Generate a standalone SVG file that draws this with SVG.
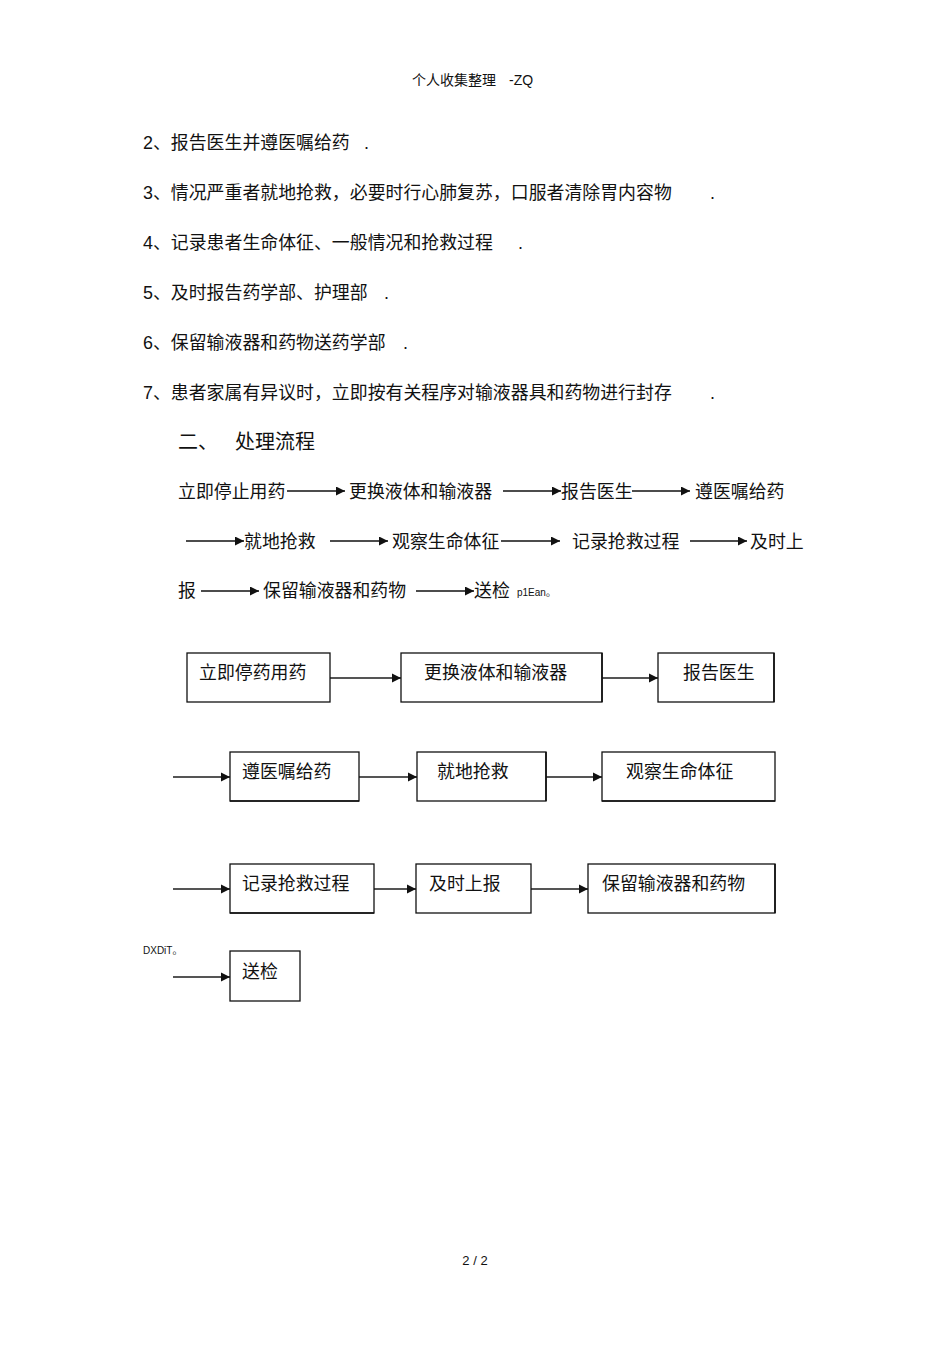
<svg xmlns="http://www.w3.org/2000/svg" width="950" height="1345" viewBox="0 0 950 1345">
<defs>
<style>
.t{font-family:"Liberation Sans","Noto Sans CJK SC",sans-serif;font-size:17.9px;fill:#111}
.h{font-family:"Liberation Sans","Noto Sans CJK SC",sans-serif;font-size:14px;fill:#111}
.s{font-family:"Liberation Sans","Noto Sans CJK SC",sans-serif;font-size:10px;fill:#111}
.box{fill:#fff;stroke:#111;stroke-width:1.3}
.edge{stroke:#111;stroke-width:1.6}
.fl{stroke:#111;stroke-width:1.6;fill:none}
.bl{stroke:#555;stroke-width:2.2;fill:none}
</style>
<marker id="ah" viewBox="0 0 10 10" refX="10" refY="5" markerWidth="10" markerHeight="9" markerUnits="userSpaceOnUse" orient="auto">
<path d="M0,0 L10,5 L0,10 z" fill="#111"/>
</marker>
<marker id="ab" viewBox="0 0 10 10" refX="10" refY="5" markerWidth="9" markerHeight="10" markerUnits="userSpaceOnUse" orient="auto">
<path d="M0,0 L10,5 L0,10 z" fill="#111"/>
</marker>
</defs>
<rect width="950" height="1345" fill="#fff"/>

<text class="h" x="412" y="85">个人收集整理</text>
<text class="h" x="509" y="85">-ZQ</text>

<g id="list">
<text class="t" x="143" y="148.5">2、报告医生并遵医嘱给药</text><text class="t" x="364" y="148.5">.</text>
<text class="t" x="143" y="199">3、情况严重者就地抢救，必要时行心肺复苏，口服者清除胃内容物</text><text class="t" x="710" y="199">.</text>
<text class="t" x="143" y="248.5">4、记录患者生命体征、一般情况和抢救过程</text><text class="t" x="518" y="248.5">.</text>
<text class="t" x="143" y="298.5">5、及时报告药学部、护理部</text><text class="t" x="384" y="298.5">.</text>
<text class="t" x="143" y="348.5">6、保留输液器和药物送药学部</text><text class="t" x="403" y="348.5">.</text>
<text class="t" x="143" y="398.5">7、患者家属有异议时，立即按有关程序对输液器具和药物进行封存</text><text class="t" x="710" y="398.5">.</text>
</g>

<text class="t" x="178" y="448.5" style="font-size:20px">二、</text>
<text class="t" x="235" y="448.5" style="font-size:20px">处理流程</text>

<g id="flowtext">
<text class="t" x="178" y="497.5">立即停止用药</text>
<text class="t" x="349" y="497.5">更换液体和输液器</text>
<text class="t" x="561" y="497.5">报告医生</text>
<text class="t" x="695" y="497.5">遵医嘱给药</text>
<text class="t" x="244" y="547.5">就地抢救</text>
<text class="t" x="392" y="547.5">观察生命体征</text>
<text class="t" x="572" y="547.5">记录抢救过程</text>
<text class="t" x="750" y="547.5">及时上</text>
<text class="t" x="178" y="596.5">报</text>
<text class="t" x="263" y="596.5">保留输液器和药物</text>
<text class="t" x="474" y="596.5">送检</text>
<text class="s" x="517" y="596">p1Ean。</text>
</g>

<g id="flowtext-arrows">
<line class="fl" x1="287" y1="491" x2="345" y2="491" marker-end="url(#ah)"/>
<line class="fl" x1="503" y1="491" x2="561" y2="491" marker-end="url(#ah)"/>
<line class="fl" x1="632" y1="491" x2="690" y2="491" marker-end="url(#ah)"/>
<line class="fl" x1="186" y1="541" x2="244" y2="541" marker-end="url(#ah)"/>
<line class="fl" x1="330" y1="541" x2="388" y2="541" marker-end="url(#ah)"/>
<line class="fl" x1="501" y1="541" x2="560" y2="541" marker-end="url(#ah)"/>
<line class="fl" x1="690" y1="541" x2="747" y2="541" marker-end="url(#ah)"/>
<line class="fl" x1="201" y1="591" x2="259" y2="591" marker-end="url(#ah)"/>
<line class="fl" x1="416" y1="591" x2="474" y2="591" marker-end="url(#ah)"/>
</g>

<g id="connectors">
<line class="bl" x1="330" y1="678" x2="401" y2="678" marker-end="url(#ab)"/>
<line class="bl" x1="602" y1="678" x2="658" y2="678" marker-end="url(#ab)"/>
<line class="bl" x1="173" y1="777" x2="230" y2="777" marker-end="url(#ab)"/>
<line class="bl" x1="359" y1="777" x2="417" y2="777" marker-end="url(#ab)"/>
<line class="bl" x1="546" y1="777" x2="602" y2="777" marker-end="url(#ab)"/>
<line class="bl" x1="173" y1="889" x2="230" y2="889" marker-end="url(#ab)"/>
<line class="bl" x1="374" y1="889" x2="416" y2="889" marker-end="url(#ab)"/>
<line class="bl" x1="531" y1="889" x2="588" y2="889" marker-end="url(#ab)"/>
<line class="bl" x1="173" y1="977" x2="230" y2="977" marker-end="url(#ab)"/>
</g>

<g id="n1"><rect class="box" x="187" y="653" width="143" height="49"/><text class="t" x="199" y="678.5">立即停药用药</text></g>
<g id="n2"><rect class="box" x="401" y="653" width="201" height="49"/><line class="edge" x1="602" y1="653" x2="602" y2="702"/><text class="t" x="424" y="678.5">更换液体和输液器</text></g>
<g id="n3"><rect class="box" x="658" y="653" width="116" height="49"/><line class="edge" x1="774" y1="653" x2="774" y2="702"/><text class="t" x="683" y="678.5">报告医生</text></g>

<g id="n4"><rect class="box" x="230" y="752" width="129" height="49"/><line class="edge" x1="230" y1="801" x2="359" y2="801"/><text class="t" x="242" y="777.5">遵医嘱给药</text></g>
<g id="n5"><rect class="box" x="417" y="752" width="129" height="49"/><line class="edge" x1="546" y1="752" x2="546" y2="801"/><text class="t" x="437" y="777.5">就地抢救</text></g>
<g id="n6"><rect class="box" x="602" y="752" width="173" height="49"/><line class="edge" x1="602" y1="801" x2="775" y2="801"/><text class="t" x="626" y="777.5">观察生命体征</text></g>

<g id="n7"><rect class="box" x="230" y="864" width="144" height="49"/><line class="edge" x1="230" y1="913" x2="374" y2="913"/><text class="t" x="242" y="889.5">记录抢救过程</text></g>
<g id="n8"><rect class="box" x="416" y="864" width="115" height="49"/><text class="t" x="429" y="889.5">及时上报</text></g>
<g id="n9"><rect class="box" x="588" y="864" width="187" height="49"/><line class="edge" x1="775" y1="864" x2="775" y2="913"/><text class="t" x="602" y="889.5">保留输液器和药物</text></g>

<text class="s" x="143" y="954">DXDiT。</text>
<g id="n10"><rect class="box" x="230" y="951" width="70" height="50"/><text class="t" x="242" y="977.5">送检</text></g>

<text class="h" x="475" y="1265" text-anchor="middle" style="font-size:13px">2 / 2</text>
</svg>
